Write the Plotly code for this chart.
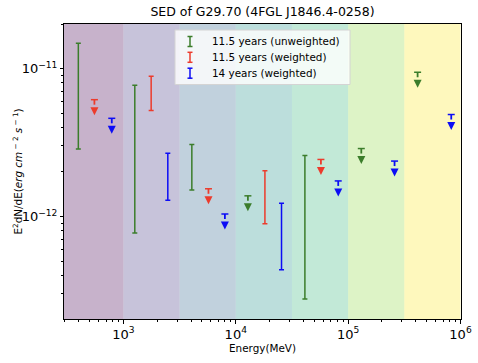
import numpy as np
import plotly.graph_objects as go

# ---------------- data ----------------
series_names = ["11.5 years (unweighted)", "11.5 years (weighted)", "14 years (weighted)"]
series_colors = ["#3b7d2b", "#ec3b2c", "#0c0cf5"]

# 11.5 years (unweighted)
g_det_E = [397, 1263, 4064, 41220]
g_det_lo = [2.86e-12, 7.73e-13, 1.51e-12, 2.77e-13]
g_det_hi = [1.48e-11, 7.70e-12, 3.07e-12, 2.58e-12]
g_ul_E = [12820, 130900, 415000]
g_ul = [1.38e-12, 2.88e-12, 9.44e-12]

# 11.5 years (weighted)
r_det_E = [1766, 18170]
r_det_lo = [5.20e-12, 8.93e-13]
r_det_hi = [8.87e-12, 2.04e-12]
r_ul_E = [552, 5714, 57240]
r_ul = [6.16e-12, 1.54e-12, 2.43e-12]

# 14 years (weighted)
b_det_E = [2484, 25530]
b_det_lo = [1.29e-12, 4.36e-13]
b_det_hi = [2.68e-12, 1.23e-12]
b_ul_E = [788, 8000, 81600, 258800, 827000]
b_ul = [4.61e-12, 1.04e-12, 1.74e-12, 2.37e-12, 4.89e-12]

# energy bands shaded in the background (MeV)
band_edges = [200, 1e3, 10**3.5, 1e4, 10**4.5, 1e5, 10**5.5, 1e6]
band_colors = ["#440154", "#443983", "#31688e", "#21918c", "#35b779", "#90d743", "#fde725"]

x_range_mev = [296, 1.01e6]
y_range_flux = [2.03e-13, 2.0e-11]

x_title = "Energy(MeV)"
y_title = "E<sup>2</sup>dN/dE(<i>erg cm</i><sup> − 2</sup> <i>s</i><sup> − 1</sup>)"

# ---------------- layout constants (pixels) ----------------
W, H = 478, 363
ML, MR, MT, MB = 64, 17, 24, 44
PW, PH = W - ML - MR, H - MT - MB

def px_x(p):  # pixel x -> paper x
    return (p - ML) / PW

def px_y(p):  # pixel y -> paper y
    return 1 - (p - MT) / PH

STEM_F = 10 ** (-5.0 / 147.7)   # stem end below the upper limit
TIP_F = 10 ** (-15.5 / 147.7)    # arrow tip below the upper limit

fig = go.Figure()

def hex_rgba(h, a):
    h = h.lstrip("#")
    return "rgba(%d,%d,%d,%.2f)" % (int(h[0:2], 16), int(h[2:4], 16), int(h[4:6], 16), a)

for i, c in enumerate(band_colors):
    fig.add_vrect(x0=band_edges[i], x1=band_edges[i + 1], fillcolor=hex_rgba(c, 0.3),
                  line_width=0, layer="below")

series = [
    (g_det_E, g_det_lo, g_det_hi, g_ul_E, g_ul),
    (r_det_E, r_det_lo, r_det_hi, r_ul_E, r_ul),
    (b_det_E, b_det_lo, b_det_hi, b_ul_E, b_ul),
]

for (dE, lo, hi, uE, ul), name, col in zip(series, series_names, series_colors):
    lo = np.array(lo); hi = np.array(hi); ul = np.array(ul)
    mid = np.sqrt(lo * hi)
    fig.add_trace(go.Scatter(
        x=dE, y=mid, mode="markers", showlegend=False, name=name,
        marker=dict(size=1, color="rgba(0,0,0,0)"),
        error_y=dict(type="data", symmetric=False, array=hi - mid, arrayminus=mid - lo,
                     color=col, thickness=1.5, width=2.5)))
    fig.add_trace(go.Scatter(
        x=uE, y=ul, mode="markers", showlegend=False, name=name,
        marker=dict(symbol="line-ew", size=5, color=col, line=dict(color=col, width=1.5)),
        error_y=dict(type="data", symmetric=False, array=ul * 0, arrayminus=ul * (1 - STEM_F),
                     color=col, thickness=1.8, width=0)))
    fig.add_trace(go.Scatter(
        x=uE, y=ul * TIP_F, mode="markers", showlegend=False, name=name,
        marker=dict(symbol="arrow-down", size=8, color=col, line=dict(width=0))))

# ---------------- hand-built legend (matplotlib style) ----------------
leg_left, leg_right, leg_top, leg_bot = 175, 350, 30, 84.5
fig.add_shape(type="rect", xref="paper", yref="paper",
              x0=px_x(leg_left), x1=px_x(leg_right), y0=px_y(leg_bot), y1=px_y(leg_top),
              fillcolor="rgba(255,255,255,0.8)", line=dict(color="#d4d4d4", width=1))
row_y = [41.5, 57.3, 73.2]
sym_x = 190
for name, col, ry in zip(series_names, series_colors, row_y):
    fig.add_shape(type="line", xref="paper", yref="paper", x0=px_x(sym_x), x1=px_x(sym_x),
                  y0=px_y(ry + 5), y1=px_y(ry - 5), line=dict(color=col, width=1.5))
    for dy in (-5, 5):
        fig.add_shape(type="line", xref="paper", yref="paper",
                      x0=px_x(sym_x - 2.5), x1=px_x(sym_x + 2.5),
                      y0=px_y(ry + dy), y1=px_y(ry + dy), line=dict(color=col, width=1.5))
    fig.add_annotation(text=name, xref="paper", yref="paper", x=px_x(210), y=px_y(ry),
                       xanchor="left", yanchor="middle", showarrow=False,
                       font=dict(size=10.4, color="black"))

# y-axis title placed as in the reference
fig.add_annotation(text=y_title, xref="paper", yref="paper", x=px_x(17), y=0.5,
                   xanchor="center", yanchor="middle", textangle=-90, showarrow=False,
                   font=dict(size=10.4, color="black"))

axis_common = dict(
    type="log", showline=True, linecolor="black", linewidth=1, mirror=True,
    ticks="outside", ticklen=3.5, tickwidth=0.8, tickcolor="black",
    showgrid=False, zeroline=False, exponentformat="power", dtick=1,
    tickfont=dict(size=10.4, color="black"), automargin=False,
    minor=dict(ticks="outside", ticklen=2, tickwidth=0.6, tickcolor="black", showgrid=False),
)

fig.update_layout(
    width=W, height=H,
    margin=dict(l=ML, r=MR, t=MT, b=MB),
    paper_bgcolor="white", plot_bgcolor="white",
    font=dict(family="DejaVu Sans", color="black"),
    title=dict(text="SED of G29.70 (4FGL J1846.4-0258)", x=0.5, xref="paper",
               y=1 - 12 / H, yref="container", yanchor="middle",
               font=dict(size=12.5, color="black")),
    xaxis=dict(axis_common, range=[np.log10(x_range_mev[0]), np.log10(x_range_mev[1])],
               title=dict(text=x_title, font=dict(size=10.4), standoff=4)),
    yaxis=dict(axis_common, range=[np.log10(y_range_flux[0]), np.log10(y_range_flux[1])]),
    showlegend=False,
)

fig.write_html("out.html", config={"displayModeBar": False},
               post_script="document.body.style.margin='0';")
